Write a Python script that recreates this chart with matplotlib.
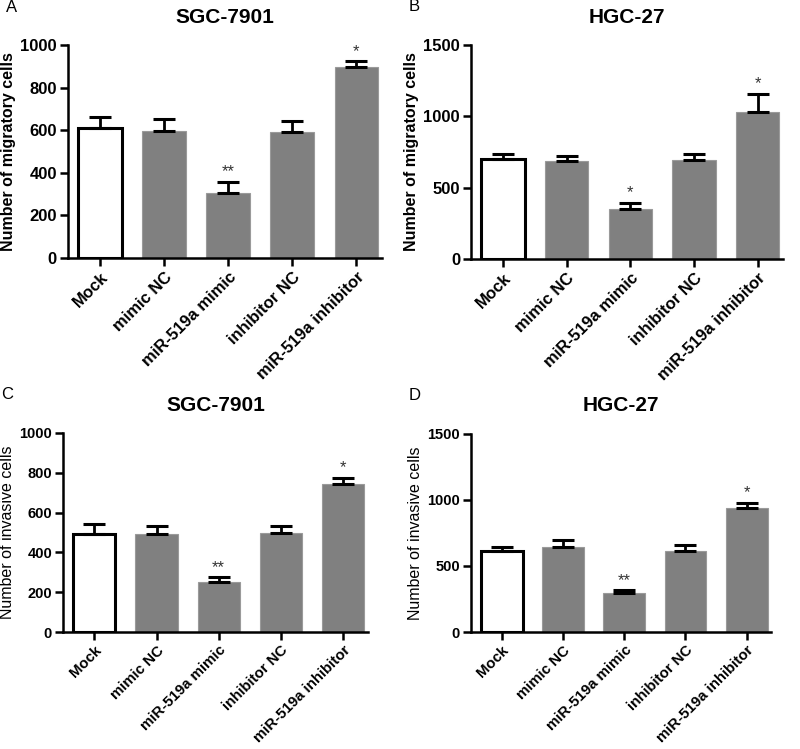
import numpy as np
import matplotlib.pyplot as plt

plt.rcParams['font.family'] = ['Liberation Sans', 'DejaVu Sans']

groups = ['Mock', 'mimic NC', 'miR-519a mimic', 'inhibitor NC', 'miR-519a inhibitor']

# A: SGC-7901 migration
mig_sgc = [610, 596, 305, 591, 897]
mig_sgc_err = [52, 56, 52, 52, 28]
mig_sgc_sig = ['', '', '**', '', '*']
# B: HGC-27 migration
mig_hgc = [701, 687, 350, 694, 1030]
mig_hgc_err = [35, 35, 42, 42, 127]
mig_hgc_sig = ['', '', '*', '', '*']
# C: SGC-7901 invasion
inv_sgc = [492, 492, 251, 497, 744]
inv_sgc_err = [51, 41, 25, 34, 30]
inv_sgc_sig = ['', '', '**', '', '*']
# D: HGC-27 invasion
inv_hgc = [614, 644, 295, 614, 939]
inv_hgc_err = [30, 53, 23, 45, 38]
inv_hgc_sig = ['', '', '**', '', '*']

panels = [
    ('A', 'SGC-7901', 'Number of migratory cells', mig_sgc, mig_sgc_err, mig_sgc_sig, 1000, 200,
     [0.085, 0.6555, 0.3925, 0.284], True),
    ('B', 'HGC-27', 'Number of migratory cells', mig_hgc, mig_hgc_err, mig_hgc_sig, 1500, 500,
     [0.589, 0.654, 0.39, 0.286], True),
    ('C', 'SGC-7901', 'Number of invasive cells', inv_sgc, inv_sgc_err, inv_sgc_sig, 1000, 200,
     [0.079, 0.156, 0.381, 0.266], False),
    ('D', 'HGC-27', 'Number of invasive cells', inv_hgc, inv_hgc_err, inv_hgc_sig, 1500, 500,
     [0.589, 0.156, 0.375, 0.265], False),
]

fig = plt.figure(figsize=(8, 7.49), dpi=100)

for letter, title, ylab, vals, errs, sig, ymax, ystep, rect, big in panels:
    ax = fig.add_axes(rect)
    x = np.arange(len(groups))
    colors = ['white'] + ['#808080'] * 4
    edges = ['black'] + ['#9a9a9a'] * 4
    lws = [2.2, 0.8, 0.8, 0.8, 0.8]
    ax.bar(x, vals, width=0.68, color=colors, edgecolor=edges, linewidth=lws, zorder=2)
    ax.errorbar(x, vals, yerr=[np.zeros(len(vals)), errs], fmt='none', ecolor='black',
                elinewidth=2, capsize=8, capthick=2.2, zorder=3)
    for xi, v, e, s in zip(x, vals, errs, sig):
        if s:
            ax.text(xi, v + e + ymax * 0.012, s, ha='center', va='bottom', fontsize=12, color='#333333')
    ax.set_xlim(-0.5, 4.4)
    ax.set_ylim(0, ymax)
    ax.set_yticks(np.arange(0, ymax + 1, ystep))
    ax.set_xticks(x)
    wt = 'bold' if big else 'semibold'
    ax.set_xticklabels(groups, rotation=45, ha='right', rotation_mode='anchor',
                       fontsize=12 if big else 10.8, fontweight=wt)
    for lbl in ax.get_yticklabels():
        lbl.set_fontweight('bold')
        lbl.set_fontsize(12 if big else 10.5)
    ax.set_ylabel(ylab, fontsize=11.5, fontweight='bold' if big else 'normal', labelpad=3)
    ax.spines['top'].set_visible(False)
    ax.spines['right'].set_visible(False)
    ax.spines['left'].set_linewidth(1.8)
    ax.spines['bottom'].set_linewidth(1.8)
    ax.tick_params(axis='both', width=1.8, length=6, direction='out', pad=2)
    ax.set_title(title, fontsize=15, fontweight='bold', pad=16)
    fig.text(rect[0] - 0.078, rect[1] + rect[3] + 0.045, letter, fontsize=12)

fig.savefig('out.png', dpi=100)
